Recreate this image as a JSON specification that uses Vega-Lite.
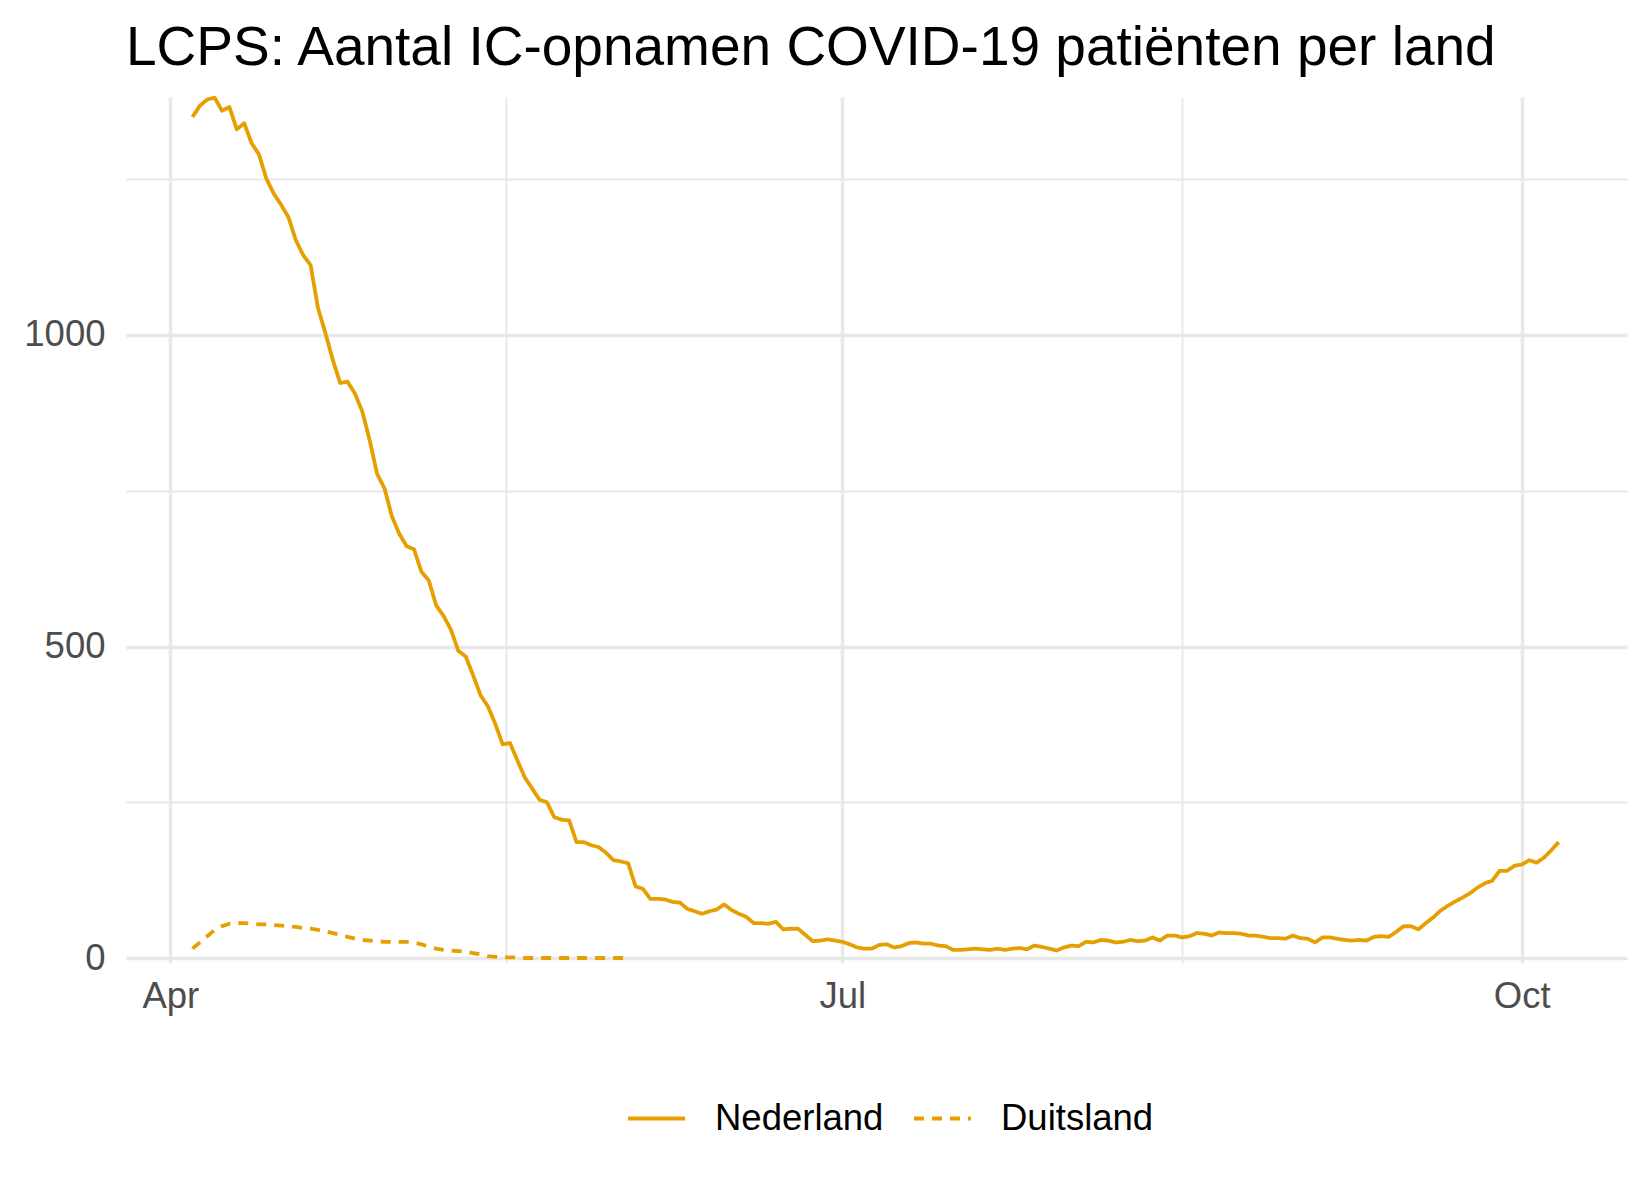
{
  "$schema": "https://vega.github.io/schema/vega-lite/v6.json",
  "autosize": {"type": "none"},
  "padding": {"left": 126, "top": 97, "right": 23, "bottom": 237},
  "width": 1501,
  "height": 866,
  "background": "white",
  "title": {
    "text": "LCPS: Aantal IC-opnamen COVID-19 patiënten per land",
    "anchor": "start",
    "frame": "group",
    "font": "Liberation Sans",
    "fontSize": 55,
    "fontWeight": "normal",
    "color": "black",
    "baseline": "alphabetic",
    "offset": -24
  },
  "datasets": {
    "nl": [
      {"datum":"2020-04-04T00:00","waarde":1350},{"datum":"2020-04-05T00:00","waarde":1368},{"datum":"2020-04-06T00:00","waarde":1378},{"datum":"2020-04-07T00:00","waarde":1381},{"datum":"2020-04-08T00:00","waarde":1360},{"datum":"2020-04-09T00:00","waarde":1366},{"datum":"2020-04-10T00:00","waarde":1330},{"datum":"2020-04-11T00:00","waarde":1340},{"datum":"2020-04-12T00:00","waarde":1308},{"datum":"2020-04-13T00:00","waarde":1290},{"datum":"2020-04-14T00:00","waarde":1251},{"datum":"2020-04-15T00:00","waarde":1227},{"datum":"2020-04-16T00:00","waarde":1209},{"datum":"2020-04-17T00:00","waarde":1189},{"datum":"2020-04-18T00:00","waarde":1152},{"datum":"2020-04-19T00:00","waarde":1128},{"datum":"2020-04-20T00:00","waarde":1112},{"datum":"2020-04-21T00:00","waarde":1043},{"datum":"2020-04-22T00:00","waarde":1003},{"datum":"2020-04-23T00:00","waarde":960},{"datum":"2020-04-24T00:00","waarde":923},{"datum":"2020-04-25T00:00","waarde":925},{"datum":"2020-04-26T00:00","waarde":906},{"datum":"2020-04-27T00:00","waarde":877},{"datum":"2020-04-28T00:00","waarde":831},{"datum":"2020-04-29T00:00","waarde":777},{"datum":"2020-04-30T00:00","waarde":754},
      {"datum":"2020-05-01T00:00","waarde":709},{"datum":"2020-05-02T00:00","waarde":681},{"datum":"2020-05-03T00:00","waarde":661},{"datum":"2020-05-04T00:00","waarde":656},{"datum":"2020-05-05T00:00","waarde":620},{"datum":"2020-05-06T00:00","waarde":606},{"datum":"2020-05-07T00:00","waarde":566},{"datum":"2020-05-08T00:00","waarde":549},{"datum":"2020-05-09T00:00","waarde":527},{"datum":"2020-05-10T00:00","waarde":493},{"datum":"2020-05-11T00:00","waarde":484},{"datum":"2020-05-12T00:00","waarde":454},{"datum":"2020-05-13T00:00","waarde":422},{"datum":"2020-05-14T00:00","waarde":404},{"datum":"2020-05-15T00:00","waarde":376},{"datum":"2020-05-16T00:00","waarde":343},{"datum":"2020-05-17T00:00","waarde":345},{"datum":"2020-05-18T00:00","waarde":317},{"datum":"2020-05-19T00:00","waarde":290},{"datum":"2020-05-20T00:00","waarde":272},{"datum":"2020-05-21T00:00","waarde":254},{"datum":"2020-05-22T00:00","waarde":250},{"datum":"2020-05-23T00:00","waarde":226},{"datum":"2020-05-24T00:00","waarde":222},{"datum":"2020-05-25T00:00","waarde":221},{"datum":"2020-05-26T00:00","waarde":186},{"datum":"2020-05-27T00:00","waarde":186},{"datum":"2020-05-28T00:00","waarde":181},{"datum":"2020-05-29T00:00","waarde":178},{"datum":"2020-05-30T00:00","waarde":169},{"datum":"2020-05-31T00:00","waarde":157},
      {"datum":"2020-06-01T00:00","waarde":155},{"datum":"2020-06-02T00:00","waarde":152},{"datum":"2020-06-03T00:00","waarde":115},{"datum":"2020-06-04T00:00","waarde":111},{"datum":"2020-06-05T00:00","waarde":95},{"datum":"2020-06-06T00:00","waarde":95},{"datum":"2020-06-07T00:00","waarde":94},{"datum":"2020-06-08T00:00","waarde":90},{"datum":"2020-06-09T00:00","waarde":89},{"datum":"2020-06-10T00:00","waarde":79},{"datum":"2020-06-11T00:00","waarde":75},{"datum":"2020-06-12T00:00","waarde":71},{"datum":"2020-06-13T00:00","waarde":75},{"datum":"2020-06-14T00:00","waarde":78},{"datum":"2020-06-15T00:00","waarde":86},{"datum":"2020-06-16T00:00","waarde":77},{"datum":"2020-06-17T00:00","waarde":71},{"datum":"2020-06-18T00:00","waarde":66},{"datum":"2020-06-19T00:00","waarde":56},{"datum":"2020-06-20T00:00","waarde":56},{"datum":"2020-06-21T00:00","waarde":55},{"datum":"2020-06-22T00:00","waarde":58},{"datum":"2020-06-23T00:00","waarde":46},{"datum":"2020-06-24T00:00","waarde":47},{"datum":"2020-06-25T00:00","waarde":47},{"datum":"2020-06-26T00:00","waarde":37},{"datum":"2020-06-27T00:00","waarde":27},{"datum":"2020-06-28T00:00","waarde":28},{"datum":"2020-06-29T00:00","waarde":30},{"datum":"2020-06-30T00:00","waarde":28},
      {"datum":"2020-07-01T00:00","waarde":26},{"datum":"2020-07-02T00:00","waarde":22},{"datum":"2020-07-03T00:00","waarde":17},{"datum":"2020-07-04T00:00","waarde":15},{"datum":"2020-07-05T00:00","waarde":15},{"datum":"2020-07-06T00:00","waarde":21},{"datum":"2020-07-07T00:00","waarde":22},{"datum":"2020-07-08T00:00","waarde":17},{"datum":"2020-07-09T00:00","waarde":19},{"datum":"2020-07-10T00:00","waarde":24},{"datum":"2020-07-11T00:00","waarde":25},{"datum":"2020-07-12T00:00","waarde":23},{"datum":"2020-07-13T00:00","waarde":23},{"datum":"2020-07-14T00:00","waarde":20},{"datum":"2020-07-15T00:00","waarde":19},{"datum":"2020-07-16T00:00","waarde":13},{"datum":"2020-07-17T00:00","waarde":13},{"datum":"2020-07-18T00:00","waarde":14},{"datum":"2020-07-19T00:00","waarde":15},{"datum":"2020-07-20T00:00","waarde":14},{"datum":"2020-07-21T00:00","waarde":13},{"datum":"2020-07-22T00:00","waarde":15},{"datum":"2020-07-23T00:00","waarde":13},{"datum":"2020-07-24T00:00","waarde":15},{"datum":"2020-07-25T00:00","waarde":16},{"datum":"2020-07-26T00:00","waarde":14},{"datum":"2020-07-27T00:00","waarde":20},{"datum":"2020-07-28T00:00","waarde":18},{"datum":"2020-07-29T00:00","waarde":15},{"datum":"2020-07-30T00:00","waarde":12},{"datum":"2020-07-31T00:00","waarde":17},
      {"datum":"2020-08-01T00:00","waarde":20},{"datum":"2020-08-02T00:00","waarde":19},{"datum":"2020-08-03T00:00","waarde":26},{"datum":"2020-08-04T00:00","waarde":25},{"datum":"2020-08-05T00:00","waarde":29},{"datum":"2020-08-06T00:00","waarde":28},{"datum":"2020-08-07T00:00","waarde":25},{"datum":"2020-08-08T00:00","waarde":26},{"datum":"2020-08-09T00:00","waarde":29},{"datum":"2020-08-10T00:00","waarde":27},{"datum":"2020-08-11T00:00","waarde":28},{"datum":"2020-08-12T00:00","waarde":33},{"datum":"2020-08-13T00:00","waarde":28},{"datum":"2020-08-14T00:00","waarde":36},{"datum":"2020-08-15T00:00","waarde":36},{"datum":"2020-08-16T00:00","waarde":33},{"datum":"2020-08-17T00:00","waarde":35},{"datum":"2020-08-18T00:00","waarde":40},{"datum":"2020-08-19T00:00","waarde":39},{"datum":"2020-08-20T00:00","waarde":36},{"datum":"2020-08-21T00:00","waarde":41},{"datum":"2020-08-22T00:00","waarde":40},{"datum":"2020-08-23T00:00","waarde":40},{"datum":"2020-08-24T00:00","waarde":39},{"datum":"2020-08-25T00:00","waarde":36},{"datum":"2020-08-26T00:00","waarde":36},{"datum":"2020-08-27T00:00","waarde":34},{"datum":"2020-08-28T00:00","waarde":32},{"datum":"2020-08-29T00:00","waarde":32},{"datum":"2020-08-30T00:00","waarde":31},{"datum":"2020-08-31T00:00","waarde":36},
      {"datum":"2020-09-01T00:00","waarde":32},{"datum":"2020-09-02T00:00","waarde":31},{"datum":"2020-09-03T00:00","waarde":25},{"datum":"2020-09-04T00:00","waarde":33},{"datum":"2020-09-05T00:00","waarde":33},{"datum":"2020-09-06T00:00","waarde":31},{"datum":"2020-09-07T00:00","waarde":29},{"datum":"2020-09-08T00:00","waarde":28},{"datum":"2020-09-09T00:00","waarde":29},{"datum":"2020-09-10T00:00","waarde":28},{"datum":"2020-09-11T00:00","waarde":34},{"datum":"2020-09-12T00:00","waarde":35},{"datum":"2020-09-13T00:00","waarde":34},{"datum":"2020-09-14T00:00","waarde":42},{"datum":"2020-09-15T00:00","waarde":51},{"datum":"2020-09-16T00:00","waarde":51},{"datum":"2020-09-17T00:00","waarde":46},{"datum":"2020-09-18T00:00","waarde":56},{"datum":"2020-09-19T00:00","waarde":65},{"datum":"2020-09-20T00:00","waarde":76},{"datum":"2020-09-21T00:00","waarde":84},{"datum":"2020-09-22T00:00","waarde":91},{"datum":"2020-09-23T00:00","waarde":97},{"datum":"2020-09-24T00:00","waarde":104},{"datum":"2020-09-25T00:00","waarde":113},{"datum":"2020-09-26T00:00","waarde":120},{"datum":"2020-09-27T00:00","waarde":124},{"datum":"2020-09-28T00:00","waarde":140},{"datum":"2020-09-29T00:00","waarde":140},{"datum":"2020-09-30T00:00","waarde":148},
      {"datum":"2020-10-01T00:00","waarde":150},{"datum":"2020-10-02T00:00","waarde":157},{"datum":"2020-10-03T00:00","waarde":153},{"datum":"2020-10-04T00:00","waarde":161},{"datum":"2020-10-05T00:00","waarde":173},{"datum":"2020-10-06T00:00","waarde":186}
    ],
    "de": [
      {"datum":"2020-04-04T00:00","waarde":15},{"datum":"2020-04-05T00:00","waarde":25},{"datum":"2020-04-06T00:00","waarde":35},{"datum":"2020-04-07T00:00","waarde":45},{"datum":"2020-04-08T00:00","waarde":51},{"datum":"2020-04-09T00:00","waarde":55},{"datum":"2020-04-10T00:00","waarde":56},{"datum":"2020-04-11T00:00","waarde":56},{"datum":"2020-04-12T00:00","waarde":55},{"datum":"2020-04-13T00:00","waarde":54},{"datum":"2020-04-14T00:00","waarde":54},{"datum":"2020-04-15T00:00","waarde":53},{"datum":"2020-04-16T00:00","waarde":52},{"datum":"2020-04-17T00:00","waarde":51},{"datum":"2020-04-18T00:00","waarde":50},{"datum":"2020-04-19T00:00","waarde":48},{"datum":"2020-04-20T00:00","waarde":47},{"datum":"2020-04-21T00:00","waarde":45},{"datum":"2020-04-22T00:00","waarde":43},{"datum":"2020-04-23T00:00","waarde":40},{"datum":"2020-04-24T00:00","waarde":37},{"datum":"2020-04-25T00:00","waarde":34},{"datum":"2020-04-26T00:00","waarde":31},{"datum":"2020-04-27T00:00","waarde":29},{"datum":"2020-04-28T00:00","waarde":28},{"datum":"2020-04-29T00:00","waarde":27},{"datum":"2020-04-30T00:00","waarde":26},
      {"datum":"2020-05-01T00:00","waarde":26},{"datum":"2020-05-02T00:00","waarde":26},{"datum":"2020-05-03T00:00","waarde":26},{"datum":"2020-05-04T00:00","waarde":25},{"datum":"2020-05-05T00:00","waarde":22},{"datum":"2020-05-06T00:00","waarde":18},{"datum":"2020-05-07T00:00","waarde":15},{"datum":"2020-05-08T00:00","waarde":13},{"datum":"2020-05-09T00:00","waarde":12},{"datum":"2020-05-10T00:00","waarde":11},{"datum":"2020-05-11T00:00","waarde":10},{"datum":"2020-05-12T00:00","waarde":8},{"datum":"2020-05-13T00:00","waarde":6},{"datum":"2020-05-14T00:00","waarde":3},{"datum":"2020-05-15T00:00","waarde":2},{"datum":"2020-05-16T00:00","waarde":1},{"datum":"2020-05-17T00:00","waarde":1},{"datum":"2020-05-18T00:00","waarde":1},{"datum":"2020-05-19T00:00","waarde":0},{"datum":"2020-05-20T00:00","waarde":0},{"datum":"2020-05-21T00:00","waarde":0},{"datum":"2020-05-22T00:00","waarde":0},{"datum":"2020-05-23T00:00","waarde":0},{"datum":"2020-05-24T00:00","waarde":0},{"datum":"2020-05-25T00:00","waarde":0},{"datum":"2020-05-26T00:00","waarde":0},{"datum":"2020-05-27T00:00","waarde":0},{"datum":"2020-05-28T00:00","waarde":0},{"datum":"2020-05-29T00:00","waarde":0},{"datum":"2020-05-30T00:00","waarde":0},{"datum":"2020-05-31T00:00","waarde":0},{"datum":"2020-06-01T00:00","waarde":0},{"datum":"2020-06-02T00:00","waarde":0}
    ]
  },
  "encoding": {
    "x": {
      "field": "datum",
      "type": "temporal",
      "title": null,
      "scale": {"domain": [{"year": 2020, "month": 3, "date": 26}, {"year": 2020, "month": 10, "date": 15, "hours": 6}]},
      "axis": {
        "values": [{"year": 2020, "month": 4, "date": 1}, {"year": 2020, "month": 5, "date": 16, "hours": 12}, {"year": 2020, "month": 7, "date": 1}, {"year": 2020, "month": 8, "date": 16}, {"year": 2020, "month": 10, "date": 1}],
        "labelExpr": "date(datum.value) == 1 ? timeFormat(datum.value, '%b') : ''",
        "gridColor": "#E8E8E8",
        "gridWidth": {"condition": {"test": "date(datum.value) == 1", "value": 3.4}, "value": 1.9},
        "domain": false,
        "ticks": false,
        "tickSize": 0,
        "labelPadding": 44,
        "labelBaseline": "alphabetic",
        "labelFont": "Liberation Sans",
        "labelFontSize": 36.5,
        "labelColor": "#4D4D4D",
        "labelOverlap": false,
        "labelFlush": false
      }
    },
    "y": {
      "field": "waarde",
      "type": "quantitative",
      "title": null,
      "scale": {"domain": [-8, 1382], "nice": false, "zero": false},
      "axis": {
        "values": [0, 250, 500, 750, 1000, 1250],
        "format": "d",
        "labelExpr": "datum.value % 500 == 0 ? datum.label : ''",
        "gridColor": "#E8E8E8",
        "gridWidth": {"condition": {"test": "datum.value % 500 == 0", "value": 3.4}, "value": 1.9},
        "domain": false,
        "ticks": false,
        "tickSize": 0,
        "labelPadding": 21,
        "labelBaseline": "middle",
        "labelFont": "Liberation Sans",
        "labelFontSize": 36.5,
        "labelColor": "#4D4D4D",
        "labelOverlap": false,
        "labelFlush": false
      }
    }
  },
  "layer": [
    {
      "data": {"name": "nl"},
      "mark": {"type": "line", "color": "#E69F00", "strokeWidth": 3.8, "strokeCap": "butt", "strokeJoin": "round"},
      "encoding": {
        "strokeDash": {
          "datum": "Nederland",
          "type": "nominal",
          "scale": {"domain": ["Nederland", "Duitsland"], "range": [[1, 0], [10, 8]]},
          "legend": {
            "orient": "none",
            "legendX": 500,
            "legendY": 991,
            "direction": "horizontal",
            "title": null,
            "symbolType": "stroke",
            "symbolStrokeColor": "#E69F00",
            "symbolStrokeWidth": 3.8,
            "symbolSize": 3249,
            "labelFont": "Liberation Sans",
            "labelFontSize": 36.5,
            "labelColor": "black",
            "labelOffset": 28,
            "columnPadding": 22,
            "labelLimit": 400
          }
        }
      }
    },
    {
      "data": {"name": "de"},
      "mark": {"type": "line", "color": "#E69F00", "strokeWidth": 3.8, "strokeCap": "butt", "strokeJoin": "round"},
      "encoding": {
        "strokeDash": {"datum": "Duitsland", "type": "nominal"}
      }
    }
  ],
  "config": {
    "view": {"stroke": null},
    "font": "Liberation Sans"
  }
}
